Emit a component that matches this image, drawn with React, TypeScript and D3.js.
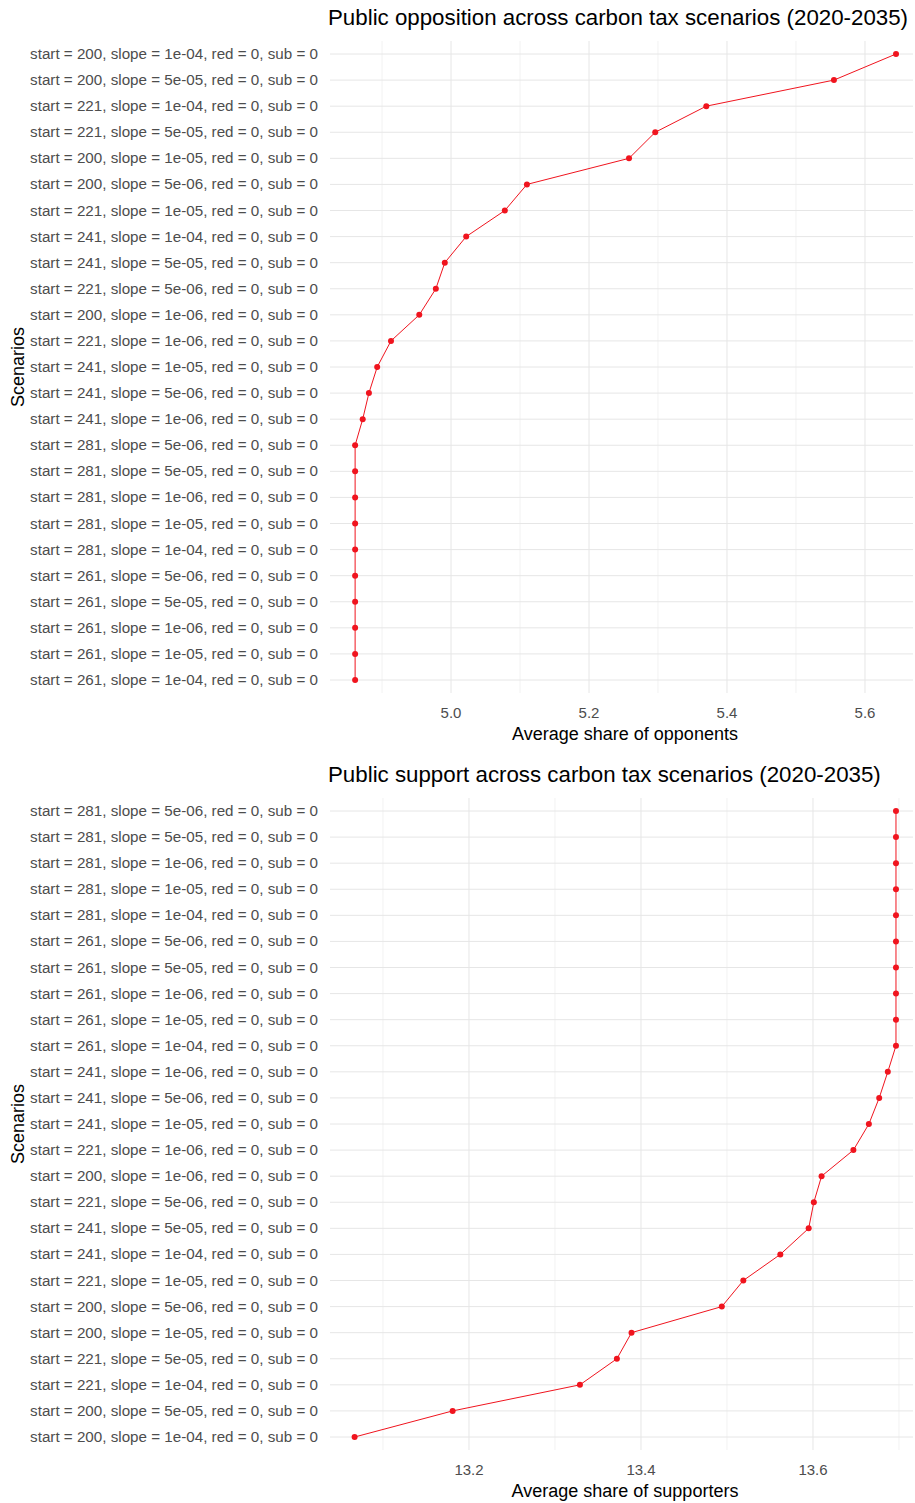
import React from "react";
import * as d3 from "d3";

const oppLabels = ["200|1e-04","200|5e-05","221|1e-04","221|5e-05","200|1e-05","200|5e-06","221|1e-05","241|1e-04","241|5e-05","221|5e-06","200|1e-06","221|1e-06","241|1e-05","241|5e-06","241|1e-06","281|5e-06","281|5e-05","281|1e-06","281|1e-05","281|1e-04","261|5e-06","261|5e-05","261|1e-06","261|1e-05","261|1e-04"];
const oppValues = [5.645,5.555,5.370,5.296,5.258,5.110,5.078,5.022,4.991,4.978,4.954,4.913,4.893,4.881,4.872,4.861,4.861,4.861,4.861,4.861,4.861,4.861,4.861,4.861,4.861];
const oppTicks = [5.0,5.2,5.4,5.6];
const supLabels = ["281|5e-06","281|5e-05","281|1e-06","281|1e-05","281|1e-04","261|5e-06","261|5e-05","261|1e-06","261|1e-05","261|1e-04","241|1e-06","241|5e-06","241|1e-05","221|1e-06","200|1e-06","221|5e-06","241|5e-05","241|1e-04","221|1e-05","200|5e-06","200|1e-05","221|5e-05","221|1e-04","200|5e-05","200|1e-04"];
const supValues = [13.6965,13.6965,13.6965,13.6965,13.6965,13.6965,13.6965,13.6965,13.6965,13.6965,13.687,13.677,13.665,13.647,13.610,13.601,13.595,13.562,13.519,13.494,13.389,13.372,13.329,13.181,13.067];
const supTicks = [13.2,13.4,13.6];

const fmt = (s: string) => { const [a, b] = s.split("|"); return `start = ${a}, slope = ${b}, red = 0, sub = 0`; };
const FONT = "'Liberation Sans', Arial, sans-serif";

function Panel({ title, xlab, labels, values, ticks, domain, yTop, yBot, minors }: any) {
  const x = d3.scaleLinear().domain(domain).range([330, 913]);
  const y = d3.scalePoint<string>().domain(labels).range([yTop, yBot]);
  const line = d3.line<number>().x((v) => x(v)).y((_, i) => y(labels[i])!);
  return (
    <g fontFamily={FONT}>
      {minors.map((m: number) => <line key={"m" + m} x1={x(m)} x2={x(m)} y1={yTop - 13} y2={yBot + 13} stroke="#f2f2f2" />)}
      {ticks.map((t: number) => <line key={"t" + t} x1={x(t)} x2={x(t)} y1={yTop - 13} y2={yBot + 13} stroke="#e6e6e6" />)}
      {labels.map((l: string) => <line key={"h" + l} x1={330} x2={913} y1={y(l)} y2={y(l)} stroke="#e6e6e6" />)}
      <path d={line(values)!} fill="none" stroke="#f0141e" strokeWidth={1} />
      {values.map((v: number, i: number) => <circle key={i} cx={x(v)} cy={y(labels[i])} r={3} fill="#f0141e" />)}
      {labels.map((l: string) => <text key={"l" + l} x={318} y={y(l)! + 5} textAnchor="end" fontSize={15.2} fill="#4d4d4d">{fmt(l)}</text>)}
      {ticks.map((t: number) => <text key={"x" + t} x={x(t)} y={yBot + 38} textAnchor="middle" fontSize={15} fill="#4d4d4d">{t.toFixed(1)}</text>)}
      <text x={328} y={yTop - 29} textAnchor="start" fontSize={22.3} fill="#000">{title}</text>
      <text x={625} y={yBot + 60} textAnchor="middle" fontSize={18} fill="#000">{xlab}</text>
      <text transform={`translate(24,${(yTop + yBot) / 2}) rotate(-90)`} textAnchor="middle" fontSize={18} fill="#000">Scenarios</text>
    </g>
  );
}

export default function App() {
  return (
    <svg width={915} height={1503} style={{ position: "absolute", left: 0, top: 0, background: "#fff" }}>
      <Panel title="Public opposition across carbon tax scenarios (2020-2035)" xlab="Average share of opponents"
        labels={oppLabels} values={oppValues} ticks={oppTicks} domain={[4.8246, 5.6696]} yTop={54} yBot={680}
        minors={[4.9, 5.1, 5.3, 5.5]} />
      <Panel title="Public support across carbon tax scenarios (2020-2035)" xlab="Average share of supporters"
        labels={supLabels} values={supValues} ticks={supTicks} domain={[13.0384, 13.7163]} yTop={811} yBot={1437}
        minors={[13.1, 13.3, 13.5, 13.7]} />
    </svg>
  );
}
